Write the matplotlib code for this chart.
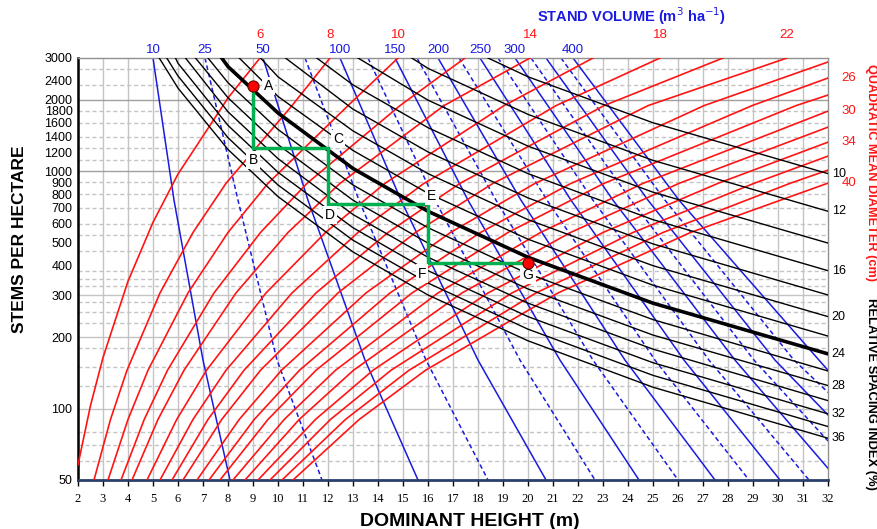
import matplotlib
matplotlib.use("Agg")
import matplotlib.pyplot as plt

# ---------------- data ----------------
# Relative spacing index isolines: (dominant height m, stems/ha)
rsi_values = [10, 12, 14, 16, 18, 20, 22, 24, 26, 28, 30, 32, 34, 36]
rsi_lines = {
    10: [(18.4, 3000), (20, 2500), (25, 1600), (32, 977)],
    12: [(15.35, 3000), (16, 2713), (20, 1736), (25, 1111), (32, 678)],
    14: [(13.2, 3000), (16, 1993), (20, 1276), (25, 816), (32, 498)],
    16: [(11.55, 3000), (13, 2311), (16, 1526), (20, 977), (25, 625), (32, 381)],
    18: [(10.3, 3000), (13, 1826), (16, 1206), (20, 772), (25, 494), (32, 301)],
    20: [(9.3, 3000), (10, 2500), (13, 1479), (16, 977), (20, 625), (25, 400), (32, 244)],
    22: [(8.45, 3000), (10, 2066), (13, 1223), (16, 807), (20, 517), (25, 331), (32, 202)],
    24: [(7.75, 3000), (8, 2760), (10, 1760), (13, 1027), (16, 678), (20, 434), (25, 278), (32, 170)],
    26: [(7.2, 3000), (8, 2360), (10, 1500), (13, 875), (16, 578), (20, 370), (25, 237), (32, 144)],
    28: [(6.7, 3000), (8, 2040), (10, 1295), (13, 755), (16, 498), (20, 319), (25, 204), (32, 125)],
    30: [(6.3, 3000), (8, 1780), (10, 1130), (13, 657), (16, 434), (20, 278), (25, 178), (32, 108)],
    32: [(5.9, 3000), (6, 2850), (8, 1560), (10, 990), (13, 578), (16, 381), (20, 244), (25, 156), (32, 95)],
    34: [(5.55, 3000), (6, 2520), (8, 1385), (10, 875), (13, 512), (16, 338), (20, 216), (25, 138), (32, 84)],
    36: [(5.25, 3000), (6, 2240), (8, 1235), (10, 782), (13, 457), (16, 301), (20, 193), (25, 123), (32, 75)],
}
rsi_labelled = [10, 12, 16, 20, 24, 28, 32, 36]

# Quadratic mean diameter isolines (cm)
qmd_values = list(range(6, 42, 2))
qmd_lines = {
    6: [(2.0, 58), (2.5, 103), (3.0, 164), (4.0, 344), (5.0, 609), (6.0, 973), (8.0, 2036), (9.28, 3000)],
    8: [(2.64, 50), (3.3, 90), (3.96, 145), (5.28, 307), (6.6, 552), (7.92, 889), (10.56, 1890), (12.08, 3000)],
    10: [(3.2, 50), (4.0, 90), (4.8, 145), (6.4, 307), (8.0, 552), (9.6, 889), (12.8, 1890), (14.8, 3000)],
    12: [(3.72, 50), (4.65, 90), (5.58, 145), (7.44, 307), (9.3, 552), (11.16, 889), (14.88, 1890), (17.48, 3000)],
    14: [(4.16, 50), (5.2, 90), (6.24, 145), (8.32, 307), (10.4, 552), (12.48, 889), (16.64, 1890), (20.08, 3000)],
    16: [(4.76, 50), (5.95, 90), (7.14, 145), (9.52, 307), (11.9, 552), (14.28, 889), (19.04, 1890), (22.6, 3000)],
    18: [(5.28, 50), (6.6, 90), (7.92, 145), (10.56, 307), (13.2, 552), (15.84, 889), (21.12, 1890), (25.28, 3000)],
    20: [(5.76, 50), (7.2, 90), (8.64, 145), (11.52, 307), (14.4, 552), (17.28, 889), (23.04, 1890), (27.8, 3000)],
    22: [(6.2, 50), (7.75, 90), (9.3, 145), (12.4, 307), (15.5, 552), (18.6, 889), (24.8, 1890), (30.36, 3000)],
    24: [(6.76, 50), (8.45, 90), (10.14, 145), (13.52, 307), (16.9, 552), (20.28, 889), (27.04, 1890), (32, 2886)],
    26: [(7.24, 50), (9.05, 90), (10.86, 145), (14.48, 307), (18.1, 552), (21.72, 889), (28.96, 1890), (32, 2470)],
    28: [(7.68, 50), (9.6, 90), (11.52, 145), (15.36, 307), (19.2, 552), (23.04, 889), (30.72, 1890), (32, 2094)],
    30: [(8.2, 50), (10.25, 90), (12.3, 145), (16.4, 307), (20.5, 552), (24.6, 889), (32, 1792)],
    32: [(8.68, 50), (10.85, 90), (13.02, 145), (17.36, 307), (21.7, 552), (26.04, 889), (32, 1534)],
    34: [(9.2, 50), (11.5, 90), (13.8, 145), (18.4, 307), (23.0, 552), (27.6, 889), (32, 1326)],
    36: [(9.68, 50), (12.1, 90), (14.52, 145), (19.36, 307), (24.2, 552), (29.04, 889), (32, 1158)],
    38: [(10.16, 50), (12.7, 90), (15.24, 145), (20.32, 307), (25.4, 552), (30.48, 889), (32, 1011)],
    40: [(10.6, 50), (13.25, 90), (15.9, 145), (21.2, 307), (26.5, 552), (32, 891)],
}
qmd_top_labels = [6, 8, 10, 14, 18, 22]
qmd_right_labels = [26, 30, 34, 40]

# Stand volume isolines (m3/ha)
vol_values = [10, 25, 50, 75, 100, 125, 150, 175, 200, 225, 250, 275, 300, 325, 350, 375, 400]
vol_lines = {
    10: [(5.0, 3000), (5.84, 755), (7.0, 160), (8.08, 50)],
    25: [(7.08, 3000), (8.4, 755), (9.96, 160), (11.76, 50)],
    50: [(9.4, 3000), (11.2, 755), (13.48, 160), (15.6, 50)],
    75: [(11.08, 3000), (13.24, 755), (15.92, 160), (18.4, 50)],
    100: [(12.48, 3000), (14.92, 755), (18.0, 160), (20.72, 50)],
    125: [(13.6, 3000), (16.28, 755), (19.68, 160), (22.68, 50)],
    150: [(14.68, 3000), (17.6, 755), (21.28, 160), (24.44, 50)],
    175: [(15.56, 3000), (18.72, 755), (22.6, 160), (26.0, 50)],
    200: [(16.4, 3000), (19.72, 755), (23.88, 160), (27.48, 50)],
    225: [(17.24, 3000), (20.76, 755), (25.08, 160), (28.84, 50)],
    250: [(18.08, 3000), (21.72, 755), (26.24, 160), (30.08, 50)],
    275: [(18.8, 3000), (22.6, 755), (27.24, 160), (31.24, 50)],
    300: [(19.48, 3000), (23.4, 755), (28.28, 160), (32, 56)],
    325: [(20.12, 3000), (24.12, 755), (29.04, 160), (32, 73)],
    350: [(20.72, 3000), (24.8, 755), (29.88, 160), (32, 94)],
    375: [(21.32, 3000), (25.48, 755), (30.64, 160), (32, 117)],
    400: [(21.8, 3000), (26.04, 755), (31.64, 160), (32, 145)],
}
vol_labelled = [10, 25, 50, 100, 150, 200, 250, 300, 400]

# Thinning schedule A-G
path_h = [9, 9, 12, 12, 16, 16, 20]
path_n = [2290, 1250, 1250, 730, 730, 410, 410]
path_names = ["A", "B", "C", "D", "E", "F", "G"]

x_ticks = list(range(2, 33))
y_ticks = [50, 100, 200, 300, 400, 500, 600, 700, 800, 900, 1000,
           1200, 1400, 1600, 1800, 2000, 2400, 3000]

# ---------------- figure ----------------
W, H = 877, 529
fig = plt.figure(figsize=(W / 100, H / 100), dpi=100)
ax = fig.add_axes([78 / W, 1 - 480 / H, (828 - 78) / W, (480 - 58) / H])
ax.set_xlim(2, 32)
ax.set_yscale("log")
ax.set_ylim(50, 3000)

# grid
for x in range(3, 32):
    ax.axvline(x, color="#c4c4c4", lw=1.0, zorder=0)
solid_rows = [2000, 1000, 300, 200, 100]
dash_rows = [2700, 2300, 1800, 1600, 1400, 1250, 1120, 900, 800, 700, 600, 540,
             460, 380, 350, 330, 280, 255, 230, 180, 150, 125, 80, 70, 60]
for y in solid_rows:
    ax.axhline(y, color="#a0a0a0" if y in (1000, 2000) else "#c4c4c4", lw=1.0, zorder=0)
for y in dash_rows:
    ax.axhline(y, color="#c4c4c4", lw=1.0, ls=(0, (3, 2)), zorder=0)

BLUE = "#1a1ae0"
RED = "#ff1414"

# volume lines
for v in vol_values:
    pts = vol_lines[v]
    solid = (v % 50 == 0) or v == 10
    ax.plot([p[0] for p in pts], [p[1] for p in pts], color=BLUE,
            lw=1.1, ls="-" if solid else (0, (3, 2)), zorder=2)

# diameter lines
for d in qmd_values:
    pts = qmd_lines[d]
    ax.plot([p[0] for p in pts], [p[1] for p in pts], color=RED, lw=1.2, zorder=3)

# spacing lines
for r in rsi_values:
    pts = rsi_lines[r]
    ax.plot([p[0] for p in pts], [p[1] for p in pts], color="black",
            lw=2.6 if r == 24 else 1.0, zorder=4)

# thinning path
ax.plot(path_h, path_n, color="#00b050", lw=2.5, zorder=5, solid_joinstyle="miter")
ax.plot([path_h[0], path_h[-1]], [path_n[0], path_n[-1]], "o", ms=8,
        mfc="#ff0000", mec="#600000", mew=0.8, zorder=7)
lab_off = {"A": (0.62, 1.0), "B": (0.0, 0.891), "C": (0.4, 1.092), "D": (0.08, 0.895),
           "E": (0.16, 1.078), "F": (-0.24, 0.904), "G": (0.0, 0.888)}
for h, n, name in zip(path_h, path_n, path_names):
    dx, fy = lab_off[name]
    ax.text(h + dx, n * fy, name, fontsize=10, family="Liberation Sans",
            ha="center", va="center", zorder=6,
            bbox=dict(facecolor="white", edgecolor="none", pad=1.5))

# axes styling
ax.set_xticks(x_ticks)
ax.set_xticklabels([str(t) for t in x_ticks], family="Liberation Serif", fontsize=9)
ax.yaxis.set_minor_locator(plt.NullLocator())
ax.set_yticks(y_ticks)
ax.set_yticklabels([str(t) for t in y_ticks], family="Liberation Sans", fontsize=9)
ax.yaxis.set_minor_formatter(plt.NullFormatter())
ax.tick_params(axis="x", length=4, width=1, direction="out", pad=5)
ax.tick_params(axis="y", length=0, pad=4)
for side in ("top", "right"):
    ax.spines[side].set_color("#909090")
    ax.spines[side].set_linewidth(1.0)
ax.spines["left"].set_color("black")
ax.spines["left"].set_linewidth(1.8)
ax.spines["bottom"].set_color("#2b3f6b")
ax.spines["bottom"].set_linewidth(2.0)

xt = ax.get_xaxis_transform()

# RSI labels on the right
for r in rsi_labelled:
    n_end = rsi_lines[r][-1][1]
    ax.text(32.15, n_end, str(r), fontsize=9, family="Liberation Sans",
            ha="left", va="center", clip_on=False)

# diameter labels
for d in qmd_top_labels:
    h_end = qmd_lines[d][-1][0]
    ax.text(h_end, 1 + 23 / 422, str(d), color=RED, fontsize=9.5, transform=xt,
            family="Liberation Sans", ha="center", va="center", clip_on=False)
for d in qmd_right_labels:
    n_end = qmd_lines[d][-1][1]
    ax.text(32.55, n_end, str(d), color=RED, fontsize=9.5,
            family="Liberation Sans", ha="left", va="center", clip_on=False)

# volume labels
for v in vol_labelled:
    h_top = vol_lines[v][0][0]
    ax.text(h_top, 1 + 8 / 422, str(v), color=BLUE, fontsize=9.5, transform=xt,
            family="Liberation Sans", ha="center", va="center", clip_on=False)

# axis titles
fig.text(470 / W, 1 - 521 / H, "DOMINANT HEIGHT (m)", fontsize=14, fontweight="bold",
         family="Liberation Sans", ha="center", va="center")
fig.text(20 / W, 1 - 239 / H, "STEMS PER HECTARE", fontsize=12.5, fontweight="bold",
         family="Liberation Sans", ha="center", va="center", rotation=90)
fig.text(632 / W, 1 - 16 / H, "STAND VOLUME (m$^3$ ha$^{-1}$)", fontsize=10.5,
         fontweight="bold", color=BLUE, family="Liberation Sans",
         ha="center", va="center")
fig.text(871 / W, 1 - 173 / H, "QUADRATIC MEAN DIAMETER (cm)", fontsize=9.2,
         fontweight="bold", color=RED, family="Liberation Sans",
         ha="center", va="center", rotation=-90)
fig.text(871 / W, 1 - 394 / H, "RELATIVE SPACING INDEX (%)", fontsize=9.4,
         fontweight="bold", color="black", family="Liberation Sans",
         ha="center", va="center", rotation=-90)

fig.savefig("out.png", dpi=100)
